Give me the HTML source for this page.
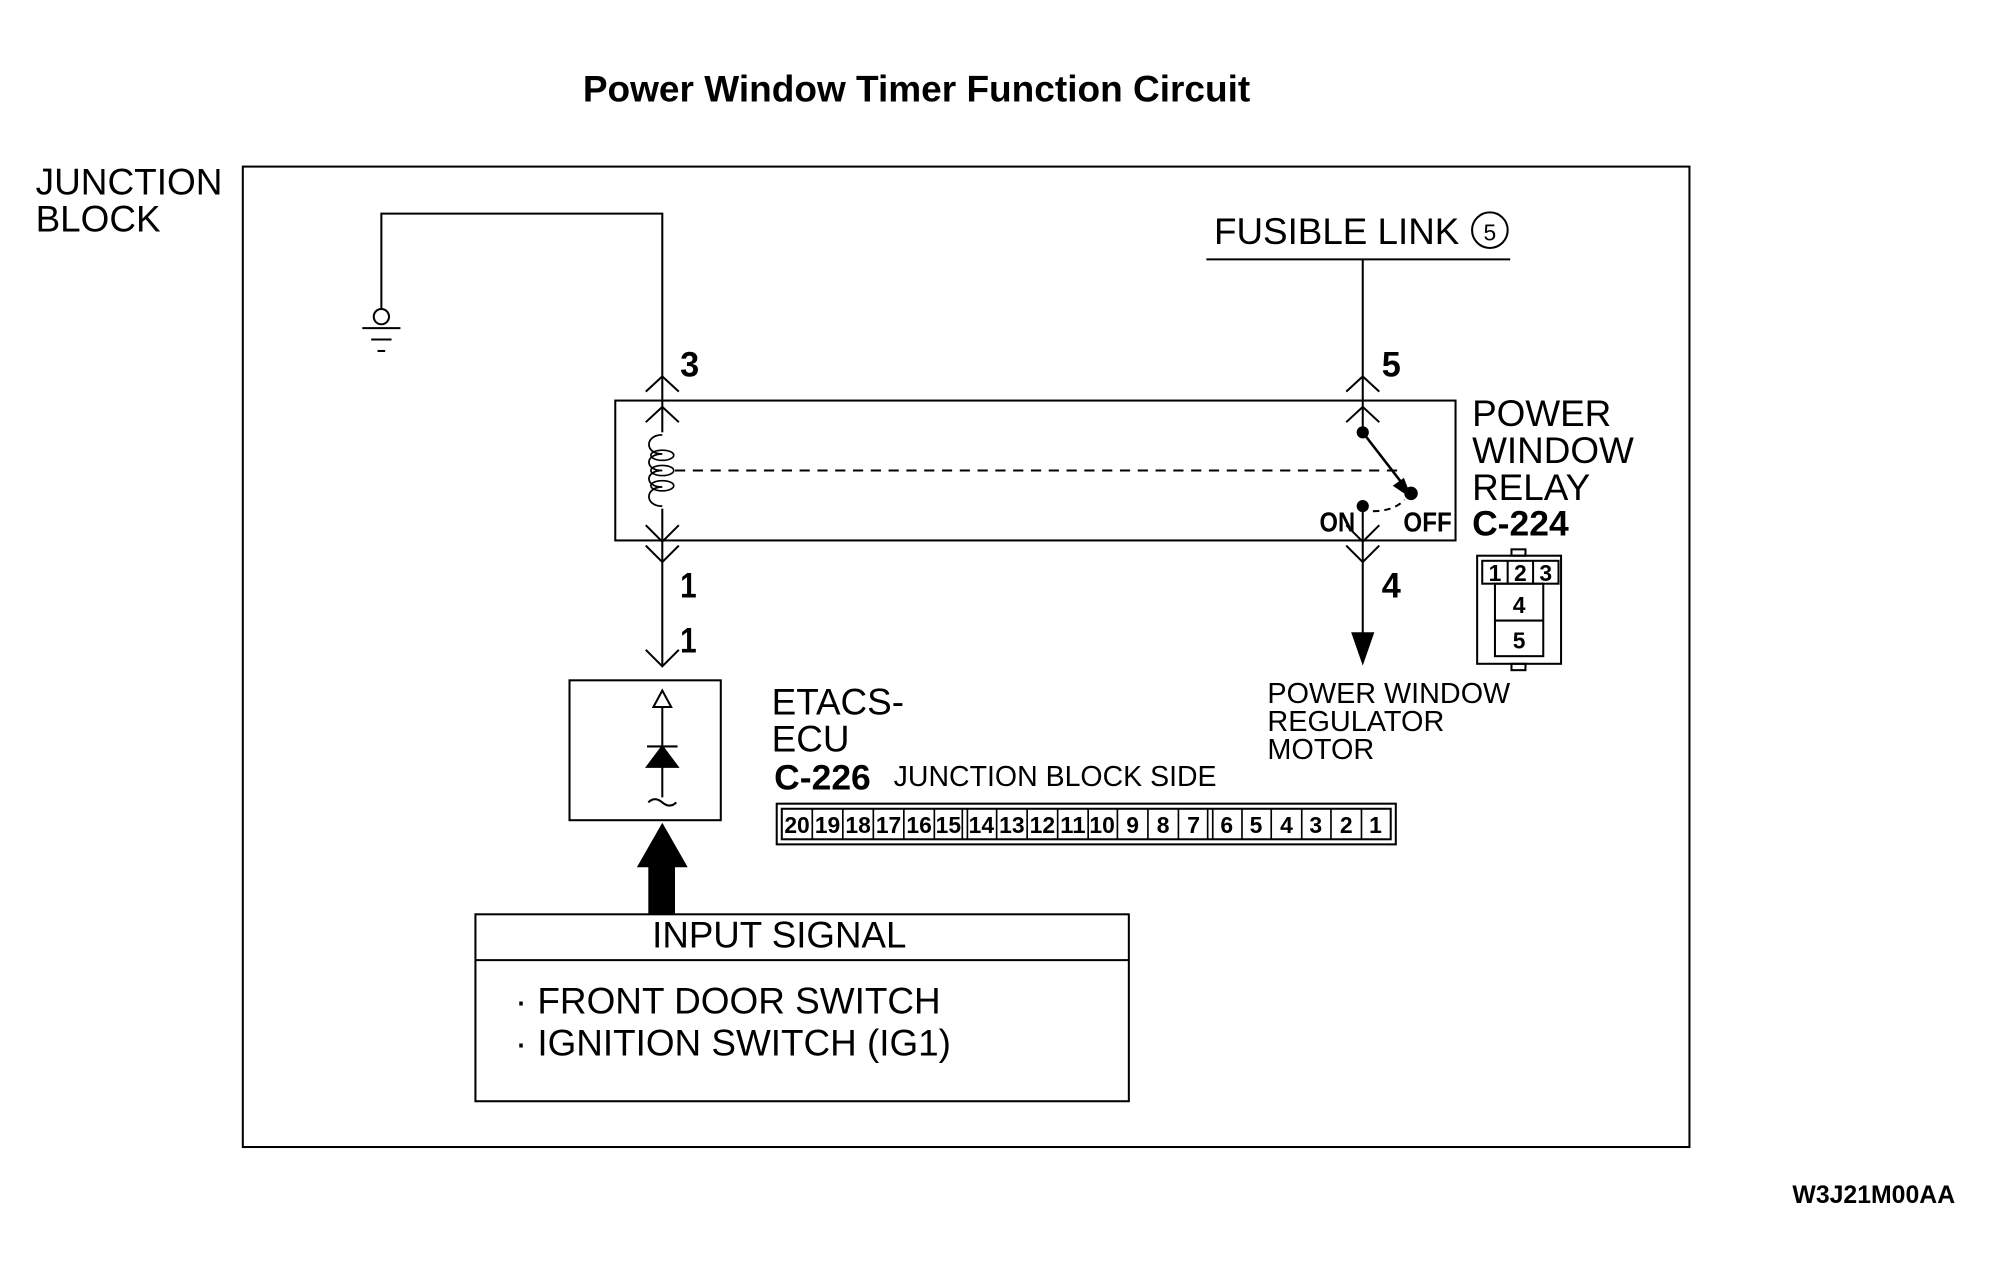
<!DOCTYPE html>
<html><head><meta charset="utf-8"><style>html,body{margin:0;padding:0;background:#fff}svg{display:block}</style></head>
<body>
<svg width="1992" height="1278" viewBox="0 0 1567 1005" preserveAspectRatio="none" xmlns="http://www.w3.org/2000/svg" font-family="Liberation Sans, sans-serif" fill="none" stroke="#000" stroke-width="1.6">
<g fill="#000" stroke="none">
<text x="721" y="80" font-size="29" font-weight="bold" text-anchor="middle" textLength="525" lengthAdjust="spacingAndGlyphs">Power Window Timer Function Circuit</text>
<text x="28" y="153" font-size="29" textLength="147" lengthAdjust="spacingAndGlyphs">JUNCTION</text>
<text x="28" y="182" font-size="29">BLOCK</text>
<text x="955" y="192" font-size="29" textLength="193" lengthAdjust="spacingAndGlyphs">FUSIBLE LINK</text>
<text x="1172" y="189" font-size="18" text-anchor="middle">5</text>
<text x="1158" y="335" font-size="29">POWER</text>
<text x="1158" y="364" font-size="29">WINDOW</text>
<text x="1158" y="393" font-size="29">RELAY</text>
<text x="1158" y="421" font-size="28" font-weight="bold" textLength="76" lengthAdjust="spacingAndGlyphs">C-224</text>
<text x="1038" y="418" font-size="22" font-weight="bold" textLength="28" lengthAdjust="spacingAndGlyphs">ON</text>
<text x="1104" y="418" font-size="22" font-weight="bold" textLength="38" lengthAdjust="spacingAndGlyphs">OFF</text>
<text x="535" y="296" font-size="28" font-weight="bold" textLength="15" lengthAdjust="spacingAndGlyphs">3</text>
<text x="1087" y="296" font-size="28" font-weight="bold" textLength="15" lengthAdjust="spacingAndGlyphs">5</text>
<text x="535" y="470" font-size="28" font-weight="bold" textLength="13" lengthAdjust="spacingAndGlyphs">1</text>
<text x="535" y="513" font-size="28" font-weight="bold" textLength="13" lengthAdjust="spacingAndGlyphs">1</text>
<text x="1087" y="470" font-size="28" font-weight="bold" textLength="15" lengthAdjust="spacingAndGlyphs">4</text>
<text x="997" y="553" font-size="22.7" textLength="191" lengthAdjust="spacingAndGlyphs">POWER WINDOW</text>
<text x="997" y="575" font-size="22.7">REGULATOR</text>
<text x="997" y="597" font-size="22.7">MOTOR</text>
<text x="607" y="562" font-size="29">ETACS-</text>
<text x="607" y="591" font-size="29">ECU</text>
<text x="609" y="621" font-size="28" font-weight="bold" textLength="76" lengthAdjust="spacingAndGlyphs">C-226</text>
<text x="703" y="618" font-size="22.6" textLength="254" lengthAdjust="spacingAndGlyphs">JUNCTION BLOCK SIDE</text>
<text x="613" y="745" font-size="29" text-anchor="middle" textLength="200" lengthAdjust="spacingAndGlyphs">INPUT SIGNAL</text>
<text x="405" y="797" font-size="29" textLength="335" lengthAdjust="spacingAndGlyphs">· FRONT DOOR SWITCH</text>
<text x="405" y="830" font-size="29">· IGNITION SWITCH (IG1)</text>
<text x="1410" y="946" font-size="20" font-weight="bold" textLength="128" lengthAdjust="spacingAndGlyphs">W3J21M00AA</text>
</g>
<rect x="191" y="131" width="1138" height="771"/>
<polyline points="300,243 300,168 521,168 521,425"/>
<circle cx="300" cy="249" r="6"/>
<line x1="285" y1="258" x2="315" y2="258"/><line x1="292" y1="267" x2="308" y2="267"/><line x1="297" y1="276" x2="303" y2="276"/>
<rect x="484" y="315" width="661" height="110"/>
<polyline points="508,308 521,296 534,308"/><polyline points="508,332 521,320 534,332"/>
<polyline points="508,413 521,426 534,413"/><polyline points="508,429 521,442 534,429"/>
<line x1="521" y1="425" x2="521" y2="524"/>
<polyline points="508,511 521,524 534,511"/>
<rect x="512" y="340" width="18" height="60" fill="#fff" stroke="none"/>
<path d="M521,342 c-14,0 -14,15 0,15 M521,357 c-14,0 -14,13 0,13 M521,370 c-14,0 -14,13 0,13 M521,383 c-14,0 -14,15 0,15" stroke-width="1.4"/>
<ellipse cx="521" cy="358" rx="9" ry="4" stroke-width="1.3"/><ellipse cx="521" cy="370" rx="9" ry="4" stroke-width="1.3"/><ellipse cx="521" cy="382" rx="9" ry="4" stroke-width="1.3"/>
<line x1="531" y1="370" x2="1100" y2="370" stroke-dasharray="8,6"/>
<line x1="949" y1="204" x2="1188" y2="204"/>
<circle cx="1172" cy="181" r="14"/>
<line x1="1072" y1="204" x2="1072" y2="340"/>
<polyline points="1059,308 1072,296 1085,308"/><polyline points="1059,332 1072,320 1085,332"/>
<circle cx="1072" cy="340" r="4" fill="#000"/>
<line x1="1072" y1="340" x2="1106" y2="384" stroke-width="2"/>
<polygon points="1109,390 1097,382 1104,377" fill="#000"/>
<circle cx="1110" cy="388" r="4.5" fill="#000"/>
<circle cx="1072" cy="398" r="4" fill="#000"/>
<path d="M1080,402 Q1096,402 1105,393" stroke-dasharray="5,4"/>
<line x1="1072" y1="398" x2="1072" y2="500"/>
<polyline points="1059,413 1072,426 1085,413"/><polyline points="1059,429 1072,442 1085,429"/>
<polygon points="1064,498 1080,498 1072,521" fill="#000"/>
<rect x="1162" y="437" width="66" height="85"/>
<rect x="1189" y="432" width="11" height="5"/><rect x="1189" y="522" width="11" height="5"/>
<rect x="1166" y="441" width="60" height="18"/>
<line x1="1186" y1="441" x2="1186" y2="459"/><line x1="1206" y1="441" x2="1206" y2="459"/>
<rect x="1176" y="459" width="38" height="57"/><line x1="1176" y1="488" x2="1214" y2="488"/>
<g fill="#000" stroke="none" font-size="18" font-weight="bold" text-anchor="middle">
<text x="1176" y="457">1</text><text x="1196" y="457">2</text><text x="1216" y="457">3</text>
<text x="1195" y="482">4</text><text x="1195" y="510">5</text></g>
<rect x="448" y="535" width="119" height="110"/>
<line x1="521" y1="556" x2="521" y2="627"/>
<polygon points="514,556 528,556 521,543" fill="#fff"/>
<line x1="509" y1="587" x2="533" y2="587"/>
<polygon points="509,603 533,603 521,587" fill="#000"/>
<path d="M510,631 q5,-5 11,0 q6,5 11,0" fill="#fff"/>
<polygon points="510,719 531,719 531,682 541,682 521,647 501,682 510,682" fill="#000" stroke="none"/>
<rect x="611" y="632" width="487" height="32"/>
<rect x="615" y="636" width="479" height="24"/>
<g stroke-width="1.3">
<line x1="639" y1="636" x2="639" y2="660"/><line x1="663" y1="636" x2="663" y2="660"/><line x1="687" y1="636" x2="687" y2="660"/><line x1="711" y1="636" x2="711" y2="660"/><line x1="735" y1="636" x2="735" y2="660"/>
<line x1="757" y1="636" x2="757" y2="660"/><line x1="761" y1="636" x2="761" y2="660"/>
<line x1="784" y1="636" x2="784" y2="660"/><line x1="808" y1="636" x2="808" y2="660"/><line x1="832" y1="636" x2="832" y2="660"/><line x1="856" y1="636" x2="856" y2="660"/><line x1="879" y1="636" x2="879" y2="660"/>
<line x1="903" y1="636" x2="903" y2="660"/><line x1="927" y1="636" x2="927" y2="660"/><line x1="950" y1="636" x2="950" y2="660"/><line x1="954" y1="636" x2="954" y2="660"/>
<line x1="977" y1="636" x2="977" y2="660"/><line x1="1000" y1="636" x2="1000" y2="660"/><line x1="1024" y1="636" x2="1024" y2="660"/><line x1="1047" y1="636" x2="1047" y2="660"/><line x1="1071" y1="636" x2="1071" y2="660"/>
</g>
<g fill="#000" stroke="none" font-size="18" font-weight="bold" text-anchor="middle">
<text x="627" y="655" textLength="20" lengthAdjust="spacingAndGlyphs">20</text><text x="651" y="655" textLength="20" lengthAdjust="spacingAndGlyphs">19</text><text x="675" y="655" textLength="20" lengthAdjust="spacingAndGlyphs">18</text><text x="699" y="655" textLength="20" lengthAdjust="spacingAndGlyphs">17</text><text x="723" y="655" textLength="20" lengthAdjust="spacingAndGlyphs">16</text><text x="746" y="655" textLength="20" lengthAdjust="spacingAndGlyphs">15</text>
<text x="772" y="655" textLength="20" lengthAdjust="spacingAndGlyphs">14</text><text x="796" y="655" textLength="20" lengthAdjust="spacingAndGlyphs">13</text><text x="820" y="655" textLength="20" lengthAdjust="spacingAndGlyphs">12</text><text x="844" y="655" textLength="20" lengthAdjust="spacingAndGlyphs">11</text><text x="867" y="655" textLength="20" lengthAdjust="spacingAndGlyphs">10</text>
<text x="891" y="655">9</text><text x="915" y="655">8</text><text x="939" y="655">7</text>
<text x="965" y="655">6</text><text x="988" y="655">5</text><text x="1012" y="655">4</text><text x="1035" y="655">3</text><text x="1059" y="655">2</text><text x="1082" y="655">1</text>
</g>
<rect x="374" y="719" width="514" height="147"/>
<line x1="374" y1="755" x2="888" y2="755"/>
</svg>
</body></html>
